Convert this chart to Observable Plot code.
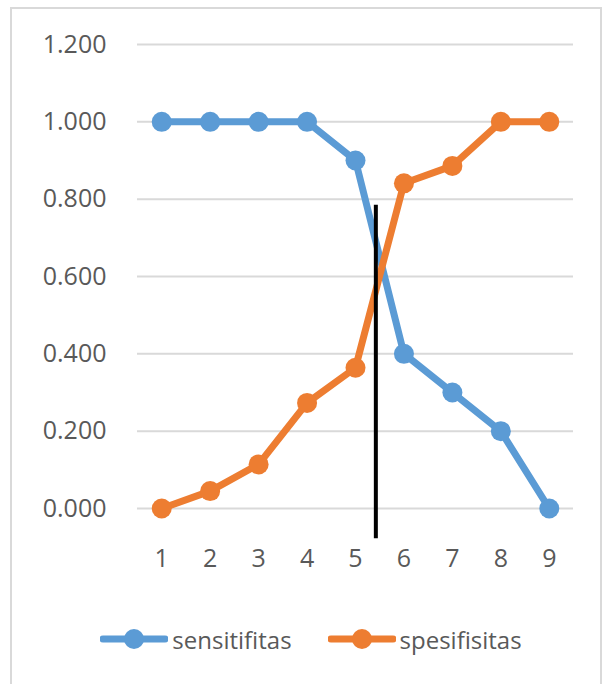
<!DOCTYPE html>
<html>
<head>
<meta charset="utf-8">
<script src="https://cdn.jsdelivr.net/npm/d3@7"></script>
<script src="https://cdn.jsdelivr.net/npm/@observablehq/plot@0.6"></script>
<style>
  html, body { margin: 0; padding: 0; background: #fff; width: 607px; height: 684px; overflow: hidden; }
  #frame { position: absolute; left: 10px; top: 7px; width: 592px; height: 700px; border: 2px solid #d9d9d9; box-sizing: border-box; }
  #chart { position: absolute; left: 0; top: 0; }
  #legend { position: absolute; left: 0; top: 622px; width: 607px; height: 34px; display: flex; justify-content: center; align-items: center; gap: 36px; font-family: "Open Sans", sans-serif; font-size: 24px; color: #595959; padding-left: 15px; box-sizing: border-box; }
  .item { display: flex; align-items: center; gap: 4px; }
  .item svg { display: block; }
</style>
</head>
<body>
<div id="frame"></div>
<div id="chart"></div>
<div id="legend"></div>
<script>
const categories = [1, 2, 3, 4, 5, 6, 7, 8, 9];
const sensitifitas = [1.0, 1.0, 1.0, 1.0, 0.9, 0.4, 0.3, 0.2, 0.0];
const spesifisitas = [0.0, 0.045, 0.114, 0.273, 0.364, 0.841, 0.886, 1.0, 1.0];
const yTicks = [0, 0.2, 0.4, 0.6, 0.8, 1.0, 1.2];
const seriesNames = ["sensitifitas", "spesifisitas"];
const seriesColors = ["#5B9BD5", "#ED7D31"];
const cutoffX = [5.42];
const cutoffY = [-0.078, 0.784];

const sens = categories.map((c, i) => ({x: c, y: sensitifitas[i]}));
const spes = categories.map((c, i) => ({x: c, y: spesifisitas[i]}));

const plot = Plot.plot({
  width: 607,
  height: 600,
  marginLeft: 137,
  marginRight: 34,
  marginTop: 44,
  marginBottom: 92,
  style: {fontFamily: "'Open Sans', sans-serif", fontSize: "25px", color: "#595959", background: "transparent"},
  x: {domain: [0.5, 9.5], label: null},
  y: {domain: [0, 1.2], label: null},
  marks: [
    Plot.gridY(yTicks, {stroke: "#d9d9d9", strokeOpacity: 1, strokeWidth: 2}),
    Plot.axisY(yTicks, {tickSize: 0, tickPadding: 31, tickFormat: d => d.toFixed(3), fill: "#595959", fontSize: 25, label: null}),
    Plot.axisX(categories, {tickSize: 0, tickPadding: 41, tickFormat: d => String(d), fill: "#595959", fontSize: 25, label: null}),
    Plot.line(sens, {x: "x", y: "y", stroke: seriesColors[0], strokeWidth: 7, strokeLinejoin: "round", strokeLinecap: "round"}),
    Plot.dot(sens, {x: "x", y: "y", r: 10, fill: seriesColors[0], stroke: "none"}),
    Plot.line(spes, {x: "x", y: "y", stroke: seriesColors[1], strokeWidth: 7, strokeLinejoin: "round", strokeLinecap: "round"}),
    Plot.dot(spes, {x: "x", y: "y", r: 10, fill: seriesColors[1], stroke: "none"}),
    Plot.ruleX(cutoffX, {y1: cutoffY[0], y2: cutoffY[1], stroke: "#000", strokeWidth: 4})
  ]
});
document.getElementById("chart").appendChild(plot);

const legend = document.getElementById("legend");
seriesNames.forEach((name, i) => {
  const item = document.createElement("div");
  item.className = "item";
  item.innerHTML = `<svg width="68" height="24"><line x1="3" y1="12" x2="65" y2="12" stroke="${seriesColors[i]}" stroke-width="7" stroke-linecap="round"/><circle cx="34" cy="12" r="10" fill="${seriesColors[i]}"/></svg><span>${name}</span>`;
  legend.appendChild(item);
});
</script>
</body>
</html>
